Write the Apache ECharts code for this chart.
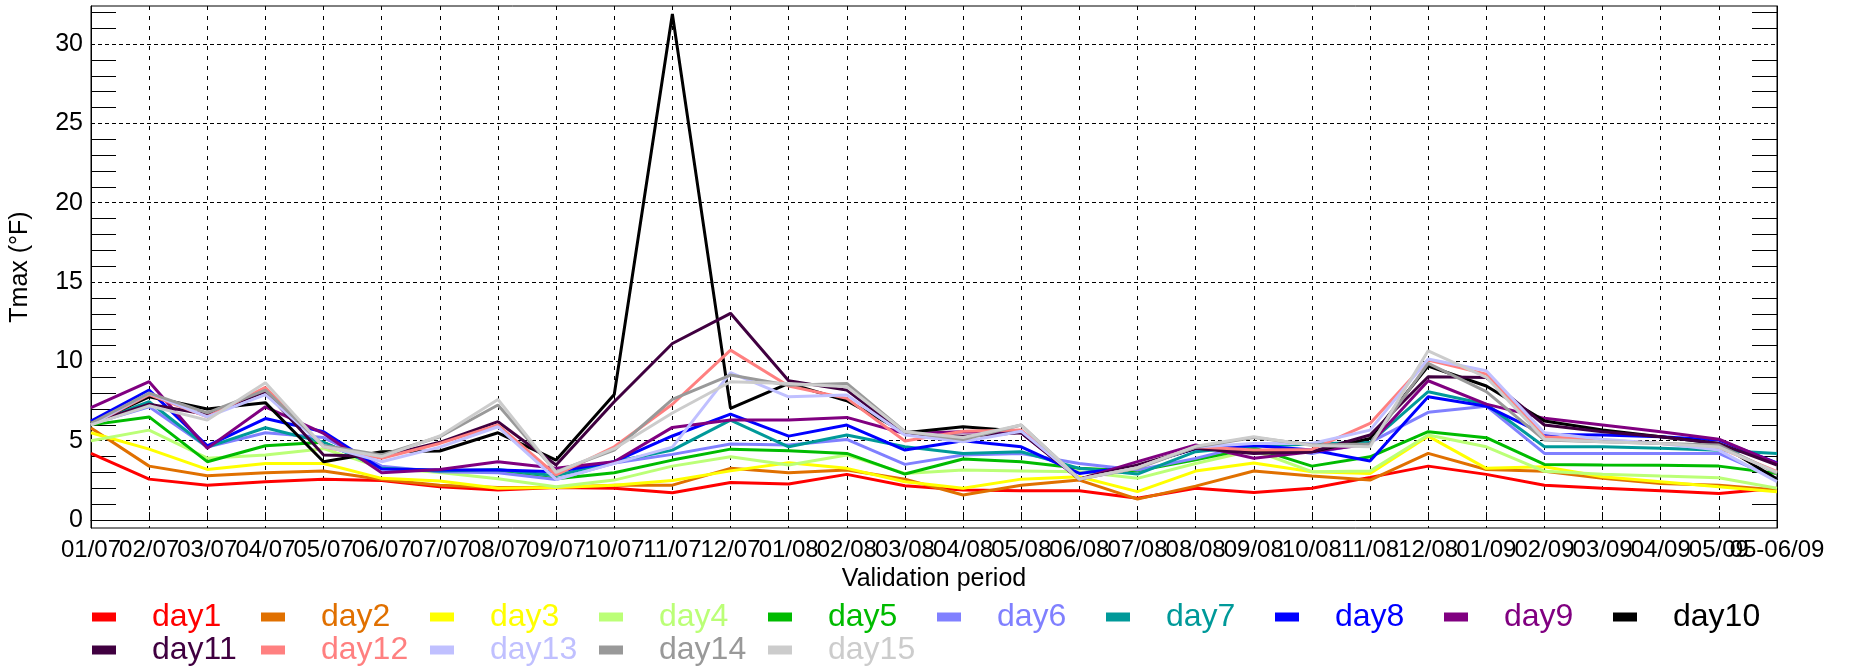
<!DOCTYPE html>
<html>
<head>
<meta charset="utf-8">
<script src="https://cdn.jsdelivr.net/npm/echarts@6/dist/echarts.min.js"></script>
<style>html,body{margin:0;padding:0;background:#fff}#c{width:1850px;height:668px}</style>
</head>
<body>
<div id="c"></div>
<script>
const categories = ['01/07','02/07','03/07','04/07','05/07','06/07','07/07','08/07','09/07','10/07','11/07','12/07',
  '01/08','02/08','03/08','04/08','05/08','06/08','07/08','08/08','09/08','10/08','11/08','12/08',
  '01/09','02/09','03/09','04/09','05/09','05-06/09'];

const seriesNames = ['day1','day2','day3','day4','day5','day6','day7','day8','day9','day10','day11','day12','day13','day14','day15'];
const seriesColors = ['#FF0000','#E07000','#FFFF00','#BBFF77','#00BB00','#8080FF','#009999','#0000FF','#800080','#000000','#400040','#FF8080','#C0C0FF','#999999','#CCCCCC'];

const day1  = [4.2,2.58,2.2,2.42,2.58,2.5,2.1,1.89,2.06,2.0,1.72,2.37,2.27,2.88,2.16,1.9,1.85,1.85,1.37,2.0,1.73,2.0,2.69,3.4,2.88,2.2,2.0,1.85,1.68,2.0];
const day2  = [5.8,3.4,2.79,2.98,3.09,2.56,2.2,2.06,2.06,2.2,2.2,3.26,2.98,3.15,2.58,1.58,2.2,2.52,1.32,2.14,3.09,2.77,2.52,4.2,3.19,3.07,2.63,2.31,2.2,1.89];
const day3  = [5.5,4.47,3.19,3.57,3.57,2.63,2.46,2.0,2.06,2.2,2.5,3.1,3.61,3.26,2.42,2.0,2.58,2.73,1.79,3.09,3.6,3.05,2.94,5.29,3.26,3.36,2.73,2.42,2.1,1.79];
const day4  = [5.0,5.67,3.9,4.1,4.5,3.3,3.0,2.6,2.1,2.52,3.4,3.99,3.47,4.1,2.94,3.15,3.1,3.05,2.63,3.57,4.4,3.05,3.09,5.36,4.62,3.07,2.88,2.77,2.67,2.0];
const day5  = [6.0,6.5,3.68,4.68,4.9,3.3,3.1,3.05,2.6,2.98,3.78,4.47,4.37,4.2,2.9,3.85,3.68,3.26,3.1,3.8,4.55,3.4,3.99,5.57,5.19,3.51,3.47,3.45,3.4,2.94];
const day6  = [6.05,7.14,4.6,5.5,5.2,3.4,3.05,2.98,2.56,3.6,4.14,4.79,4.73,5.08,3.51,4.1,4.2,3.57,3.15,3.89,4.8,4.2,4.9,6.79,7.18,4.2,4.2,4.2,4.2,2.6];
const day7  = [6.1,7.46,4.6,5.82,4.9,3.26,3.1,3.19,2.8,3.68,4.41,6.3,4.62,5.36,4.62,4.2,4.31,3.26,2.9,4.31,4.66,4.8,4.9,8.09,7.3,4.62,4.62,4.52,4.4,4.2];
const day8  = [6.24,8.19,4.68,6.4,5.57,3.22,3.15,3.15,3.05,3.68,5.3,6.68,5.29,5.99,4.41,5.0,4.62,2.94,3.4,4.5,4.7,4.41,3.72,7.77,7.18,5.4,5.36,5.25,5.04,3.61];
const day9  = [7.08,8.72,4.52,7.14,5.46,2.98,3.19,3.68,3.26,3.68,5.84,6.3,6.3,6.47,5.46,5.57,5.5,2.58,3.68,4.73,3.9,4.31,4.79,8.78,7.31,6.41,5.99,5.57,5.1,3.57];
const day10 = [6.1,7.77,7.0,7.4,3.68,4.3,4.35,5.5,3.78,7.92,31.9,7.04,8.61,7.52,5.5,5.88,5.6,2.58,3.4,4.52,4.3,4.31,5.15,9.71,8.45,6.25,5.67,5.25,4.83,2.58];
const day11 = [6.1,7.3,6.66,8.1,4.1,4.0,4.9,6.2,3.47,7.46,11.13,13.03,8.78,8.19,5.42,5.29,5.5,2.58,3.47,4.52,4.2,4.31,5.36,9.03,8.99,5.99,5.57,5.25,4.83,3.47];
const day12 = [6.0,7.9,6.5,8.36,4.62,3.9,4.83,5.99,2.84,4.62,7.3,10.71,8.45,7.67,4.98,5.6,5.67,2.58,3.3,4.62,4.41,4.45,6.09,10.08,9.2,5.25,5.04,4.83,4.56,3.05];
const day13 = [6.0,8.0,6.5,7.9,4.7,3.68,4.6,5.88,2.56,3.57,4.6,9.29,7.77,7.88,5.36,4.94,5.6,2.58,3.3,4.6,4.83,4.83,5.67,10.15,9.41,5.5,5.1,4.83,4.41,2.42];
const day14 = [6.1,8.0,6.76,8.19,4.7,4.1,5.25,7.25,3.05,4.41,7.6,9.14,8.5,8.61,5.57,5.08,5.99,2.58,3.26,4.6,5.21,4.73,4.8,9.87,8.09,5.04,4.94,4.83,4.73,2.94];
const day15 = [6.0,7.2,6.3,8.66,4.62,4.0,5.3,7.6,3.0,4.5,6.75,8.72,8.6,8.4,5.57,5.2,5.99,2.58,3.3,4.65,5.25,4.7,4.62,10.67,9.0,5.1,4.94,4.83,4.6,3.0];

const seriesValues = [day1,day2,day3,day4,day5,day6,day7,day8,day9,day10,day11,day12,day13,day14,day15];

const yMajorTicks = [0,5,10,15,20,25,30];
const yMinorTicks = [1,2,3,4,6,7,8,9,11,12,13,14,16,17,18,19,21,22,23,24,26,27,28,29,31,32];

const FONT = 'Liberation Sans, Arial, Helvetica, sans-serif';
const Y_MIN = -0.5, Y_MAX = 32.4;

const chart = echarts.init(document.getElementById('c'), null, {renderer: 'canvas'});

// legend grid layout: 10 columns per row
const LEG_LEFT = 92, LEG_PITCH = 169, LEG_TOP = [601, 634];
const legends = seriesNames.map((n, i) => ({
  left: LEG_LEFT + LEG_PITCH * (i % 10),
  top: LEG_TOP[Math.floor(i / 10)],
  padding: 0,
  itemWidth: 24, itemHeight: 9,
  icon: 'rect',
  selectedMode: false,
  textStyle: {fontFamily: FONT, fontSize: 32, padding: [0, 0, 0, 31], color: seriesColors[i]},
  data: [n]
}));

const option = {
  animation: false,
  backgroundColor: '#fff',
  grid: {left: 88, right: 73, top: 6, bottom: 140, show: true, borderColor: '#000', borderWidth: 1, backgroundColor: 'transparent'},
  legend: legends,
  xAxis: {
    type: 'category', data: categories, boundaryGap: false,
    name: 'Validation period', nameLocation: 'middle', nameGap: 39,
    nameTextStyle: {fontFamily: FONT, fontSize: 25, color: '#000'},
    axisLine: {show: true, lineStyle: {color: '#000', width: 1}},
    axisTick: {show: true, inside: true, length: 8, lineStyle: {color: '#000'}},
    axisLabel: {interval: 0, fontFamily: FONT, fontSize: 24, color: '#000', margin: 10},
    splitLine: {show: true, lineStyle: {color: '#000', width: 1, type: [4, 6]}}
  },
  yAxis: [
    {
      type: 'value', min: Y_MIN, max: Y_MAX, position: 'left',
      name: 'Tmax (°F)', nameLocation: 'middle', nameGap: 58, nameRotate: 90,
      nameTextStyle: {fontFamily: FONT, fontSize: 25, color: '#000'},
      axisLine: {show: true, lineStyle: {color: '#000', width: 1}},
      axisTick: {show: false, customValues: yMajorTicks},
      axisLabel: {customValues: yMajorTicks, fontFamily: FONT, fontSize: 25, color: '#000', margin: 8},
      splitLine: {show: true, lineStyle: {color: '#000', width: 1, type: [4, 3]}}
    },
    {
      type: 'value', min: Y_MIN, max: Y_MAX, position: 'left',
      axisLine: {show: false},
      axisTick: {show: true, inside: true, length: 25, customValues: yMinorTicks, lineStyle: {color: '#000', width: 1}},
      axisLabel: {show: false},
      splitLine: {show: false}
    },
    {
      type: 'value', min: Y_MIN, max: Y_MAX, position: 'right',
      axisLine: {show: true, lineStyle: {color: '#000', width: 1}},
      axisTick: {show: true, inside: true, length: 25, customValues: yMinorTicks, lineStyle: {color: '#000', width: 1}},
      axisLabel: {show: false},
      splitLine: {show: false}
    }
  ],
  series: seriesNames.map((n, i) => ({
    name: n, type: 'line', data: seriesValues[i], yAxisIndex: 0,
    symbol: 'none', color: seriesColors[i],
    lineStyle: {color: seriesColors[i], width: 3},
    emphasis: {disabled: true}
  }))
};
chart.setOption(option);
</script>
</body>
</html>
